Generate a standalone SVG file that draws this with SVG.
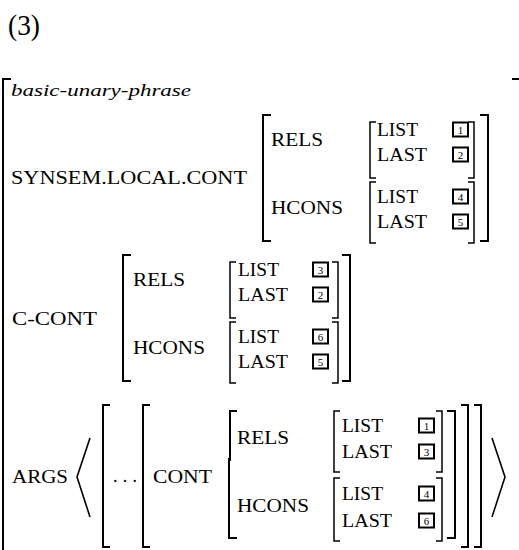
<svg xmlns="http://www.w3.org/2000/svg" width="519" height="550" viewBox="0 0 519 550">
  <style>
    text { font-family: "Liberation Serif", "DejaVu Serif", serif; fill: #000; }
    .lbl { font-size: 18px; }
    .num { font-size: 29px; }
    .type { font-size: 16px; font-style: italic; }
    .tag { font-size: 11px; text-anchor: middle; }
    .br { fill: none; stroke: #000; stroke-width: 2; }
    .bri { fill: none; stroke: #000; stroke-width: 1.5; }
    .ang { fill: none; stroke: #000; stroke-width: 1.6; }
    .box { fill: #fff; stroke: #000; stroke-width: 2; }
  </style>

  <text id="example-number" class="num" x="8" y="35" textLength="32" lengthAdjust="spacingAndGlyphs">(3)</text>

  <!-- outermost feature structure brackets -->
  <g id="connectors">
    <path class="br" d="M11,79 H3 V552"/>
    <path class="br" d="M512,79 H521 V552"/>
  </g>

  <g id="type">
    <text class="type" x="11" y="96" textLength="180" lengthAdjust="spacingAndGlyphs">basic-unary-phrase</text>
  </g>

  <!-- SYNSEM.LOCAL.CONT -->
  <g id="synsem">
    <text class="lbl" x="11" y="184" textLength="236" lengthAdjust="spacingAndGlyphs">SYNSEM.LOCAL.CONT</text>
    <g transform="translate(263,115)">
      <path class="br" d="M8,0 H0 V126 H8"/>
      <path class="br" d="M217,0 H225 V126 H217"/>
      <text class="lbl" x="8" y="31" textLength="52" lengthAdjust="spacingAndGlyphs">RELS</text>
      <text class="lbl" x="8" y="99" textLength="72" lengthAdjust="spacingAndGlyphs">HCONS</text>
      <path class="bri" d="M113,7 H107 V63 H113"/>
      <path class="bri" d="M205,7 H211 V63 H205"/>
      <path class="bri" d="M113,67 H107 V128 H113"/>
      <path class="bri" d="M205,67 H211 V128 H205"/>
      <text class="lbl" x="114" y="21" textLength="41" lengthAdjust="spacingAndGlyphs">LIST</text>
      <text class="lbl" x="114" y="46" textLength="50" lengthAdjust="spacingAndGlyphs">LAST</text>
      <text class="lbl" x="114" y="88" textLength="41" lengthAdjust="spacingAndGlyphs">LIST</text>
      <text class="lbl" x="114" y="113" textLength="50" lengthAdjust="spacingAndGlyphs">LAST</text>
      <rect class="box" x="190" y="7.5" width="15" height="14"/><text class="tag" x="197.5" y="18.5">1</text>
      <rect class="box" x="190" y="32.5" width="15" height="14"/><text class="tag" x="197.5" y="43.5">2</text>
      <rect class="box" x="190" y="74.5" width="15" height="14"/><text class="tag" x="197.5" y="85.5">4</text>
      <rect class="box" x="190" y="99.5" width="15" height="14"/><text class="tag" x="197.5" y="110.5">5</text>
    </g>
  </g>

  <!-- C-CONT -->
  <g id="c-cont">
    <text class="lbl" x="12" y="325" textLength="85" lengthAdjust="spacingAndGlyphs">C-CONT</text>
    <g transform="translate(123,255)">
      <path class="br" d="M8,0 H0 V126 H8"/>
      <path class="br" d="M219,0 H227 V126 H219"/>
      <text class="lbl" x="10" y="31" textLength="52" lengthAdjust="spacingAndGlyphs">RELS</text>
      <text class="lbl" x="10" y="99" textLength="72" lengthAdjust="spacingAndGlyphs">HCONS</text>
      <path class="bri" d="M113,7 H107 V63 H113"/>
      <path class="bri" d="M209,7 H215 V63 H209"/>
      <path class="bri" d="M113,67 H107 V128 H113"/>
      <path class="bri" d="M209,67 H215 V128 H209"/>
      <text class="lbl" x="115" y="21" textLength="41" lengthAdjust="spacingAndGlyphs">LIST</text>
      <text class="lbl" x="115" y="46" textLength="50" lengthAdjust="spacingAndGlyphs">LAST</text>
      <text class="lbl" x="115" y="88" textLength="41" lengthAdjust="spacingAndGlyphs">LIST</text>
      <text class="lbl" x="115" y="113" textLength="50" lengthAdjust="spacingAndGlyphs">LAST</text>
      <rect class="box" x="190" y="7.5" width="15" height="14"/><text class="tag" x="197.5" y="18.5">3</text>
      <rect class="box" x="190" y="32.5" width="15" height="14"/><text class="tag" x="197.5" y="43.5">2</text>
      <rect class="box" x="190" y="74.5" width="15" height="14"/><text class="tag" x="197.5" y="85.5">6</text>
      <rect class="box" x="190" y="99.5" width="15" height="14"/><text class="tag" x="197.5" y="110.5">5</text>
    </g>
  </g>

  <!-- ARGS list with one daughter -->
  <g id="args">
    <text class="lbl" x="12" y="483" textLength="56" lengthAdjust="spacingAndGlyphs">ARGS</text>
    <path class="ang" d="M90,438 L77,477 L90,517"/>
    <path class="br" d="M110,405 H103 V547 H110"/>
    <text class="lbl" x="113" y="482" textLength="24">...</text>
    <path class="br" d="M150,405 H143 V547 H150"/>
    <text class="lbl" x="153" y="483" textLength="59" lengthAdjust="spacingAndGlyphs">CONT</text>
    <g transform="translate(229,411)">
      <path class="br" d="M8,0 H1 V50"/>
      <path class="br" d="M0,47 V127 H8"/>
      <path class="br" d="M218,0 H226 V127 H218"/>
      <text class="lbl" x="8" y="33" textLength="52" lengthAdjust="spacingAndGlyphs">RELS</text>
      <text class="lbl" x="8" y="101" textLength="72" lengthAdjust="spacingAndGlyphs">HCONS</text>
      <path class="bri" d="M111,0 H105 V61 H111"/>
      <path class="bri" d="M207,0 H213 V61 H207"/>
      <path class="bri" d="M111,67 H105 V130 H111"/>
      <path class="bri" d="M207,67 H213 V130 H207"/>
      <text class="lbl" x="113" y="21" textLength="41" lengthAdjust="spacingAndGlyphs">LIST</text>
      <text class="lbl" x="113" y="47" textLength="50" lengthAdjust="spacingAndGlyphs">LAST</text>
      <text class="lbl" x="113" y="89" textLength="41" lengthAdjust="spacingAndGlyphs">LIST</text>
      <text class="lbl" x="113" y="116" textLength="50" lengthAdjust="spacingAndGlyphs">LAST</text>
      <rect class="box" x="190" y="7.5" width="15" height="14"/><text class="tag" x="197.5" y="18.5">1</text>
      <rect class="box" x="190" y="33.5" width="15" height="14"/><text class="tag" x="197.5" y="44.5">3</text>
      <rect class="box" x="190" y="75.5" width="15" height="14"/><text class="tag" x="197.5" y="86.5">4</text>
      <rect class="box" x="190" y="102.5" width="15" height="14"/><text class="tag" x="197.5" y="113.5">6</text>
    </g>
    <path class="br" d="M461,405 H468 V547 H461"/>
    <path class="br" d="M474,405 H481 V547 H474"/>
    <path class="ang" d="M492,438 L505,477 L492,517"/>
  </g>
</svg>
